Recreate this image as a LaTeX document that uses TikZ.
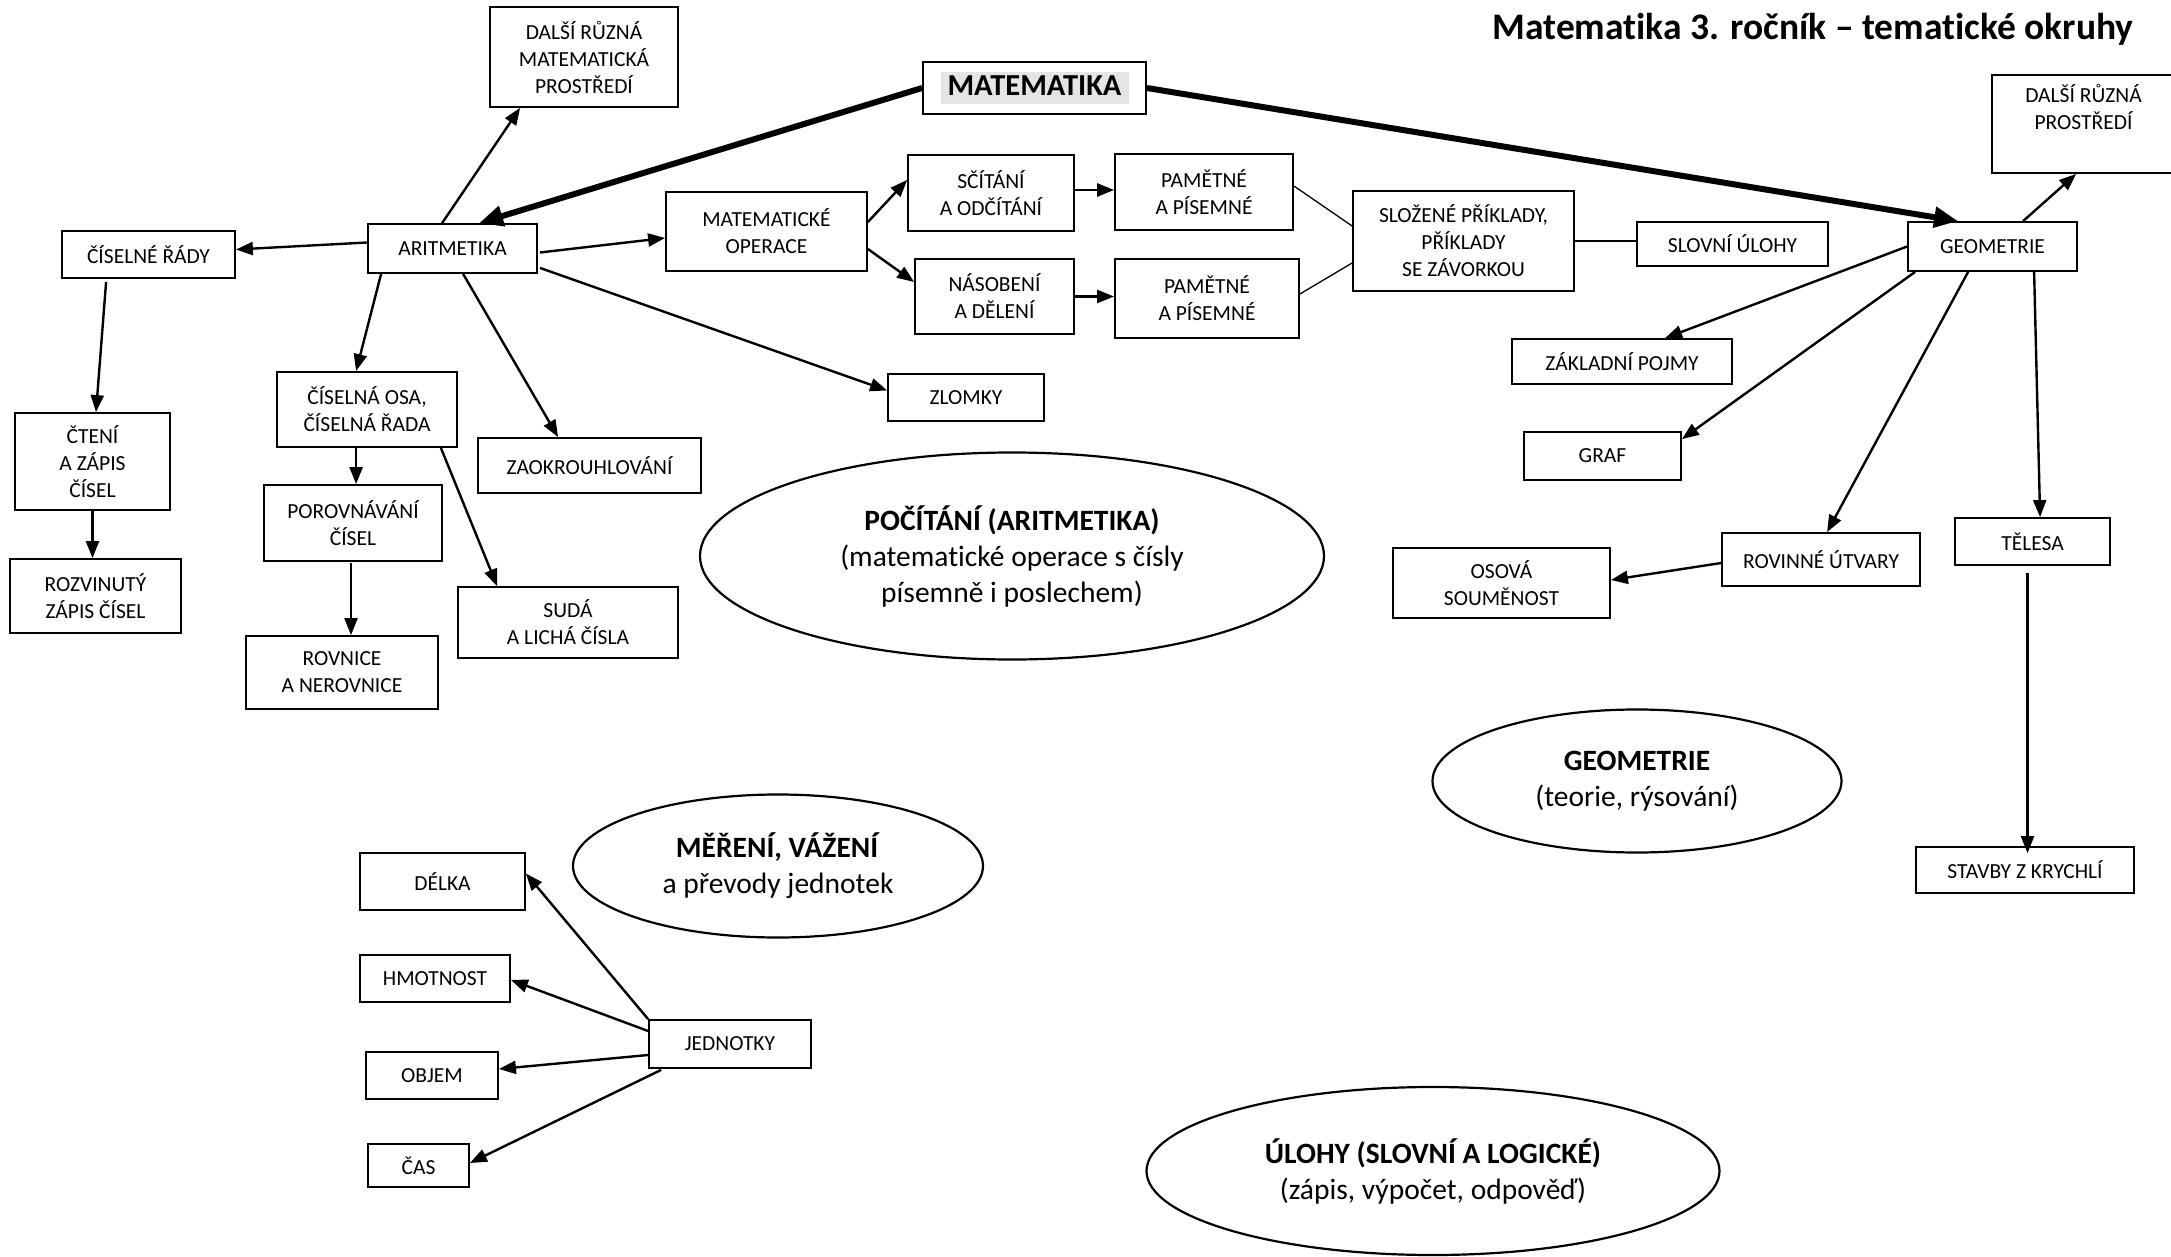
\documentclass[tikz,border=0pt]{standalone}
\usepackage{fontspec}
\setmainfont{Carlito}[Ligatures={NoCommon}]
\usetikzlibrary{arrows.meta,shapes.geometric,calc}
\definecolor{hl}{gray}{0.9}
\begin{document}
\begin{tikzpicture}[x=1pt,y=-1pt,
  box/.style={draw, line width=1.8pt, align=center, inner sep=0pt, font=\fontsize{21.5}{27}\selectfont},
  ell/.style={draw, ellipse, line width=2.2pt, align=center, inner sep=0pt, font=\fontsize{29.5}{36}\selectfont},
  arr/.style={line width=2.4pt, -{Triangle[length=17pt,width=13pt]}},
  bigarr/.style={line width=6pt, -{Triangle[length=24pt,width=20pt]}},
  thinline/.style={line width=1.3pt}]
\fill[white] (0,0) rectangle (2171,1257);
\useasboundingbox (0,0) rectangle (2171,1257);

% title
\node[anchor=base east, font=\fontsize{37.5}{44}\selectfont\bfseries] (title) at (2137,40) {Matematika 3. ročník – tematické okruhy};

% boxes
\node[box, minimum width=223pt, minimum height=52pt] (mat) at (1034.5,88)
  {\setlength\fboxsep{0pt}\colorbox{hl}{\makebox[188pt]{\rule[-8pt]{0pt}{32pt}\fontsize{30.5}{32}\selectfont\bfseries MATEMATIKA}}};
\node[box, minimum width=188pt, minimum height=100pt] (dalsi1) at (584,57) {DALŠÍ RŮZNÁ\\MATEMATICKÁ\\PROSTŘEDÍ};
\node[box, minimum width=169pt, minimum height=49pt] (arit) at (452.5,248.5) {ARITMETIKA};
\node[box, minimum width=173pt, minimum height=47pt] (cisrady) at (148.5,254.5) {ČÍSELNÉ ŘÁDY};
\node[box, minimum width=201pt, minimum height=79pt] (mops) at (766.5,231.5) {MATEMATICKÉ\\OPERACE};
\node[box, minimum width=166pt, minimum height=76pt] (scit) at (991,193) {SČÍTÁNÍ\\A ODČÍTÁNÍ};
\node[box, minimum width=159pt, minimum height=75pt] (nasob) at (994.5,296.5) {NÁSOBENÍ\\A DĚLENÍ};
\node[box, minimum width=178pt, minimum height=76pt] (pam1) at (1204,192) {PAMĚTNÉ\\A PÍSEMNÉ};
\node[box, minimum width=184pt, minimum height=79pt] (pam2) at (1207,298.5) {PAMĚTNÉ\\A PÍSEMNÉ};
\node[box, minimum width=221pt, minimum height=100pt] (slozene) at (1463.5,241) {SLOŽENÉ PŘÍKLADY,\\PŘÍKLADY\\SE ZÁVORKOU};
\node[box, minimum width=191pt, minimum height=44pt] (slovni) at (1732.5,244) {SLOVNÍ ÚLOHY};
\node[box, minimum width=169pt, minimum height=49pt] (geom) at (1992.5,246.5) {GEOMETRIE};
\node[box, minimum width=183pt, minimum height=98pt] (dalsi2) at (2083.5,124) {DALŠÍ RŮZNÁ\\PROSTŘEDÍ\\\strut};
\node[box, minimum width=220pt, minimum height=45pt] (zaklad) at (1622,361.5) {ZÁKLADNÍ POJMY};
\node[box, minimum width=157pt, minimum height=48pt] (graf) at (1602.5,456) {GRAF};
\node[box, minimum width=198pt, minimum height=53pt] (rovinne) at (1821,559.5) {ROVINNÉ ÚTVARY};
\node[box, minimum width=217pt, minimum height=70pt] (osova) at (1501.5,583) {OSOVÁ\\SOUMĚNOST};
\node[box, minimum width=155pt, minimum height=47pt] (telesa) at (2032.5,541.5) {TĚLESA};
\node[box, minimum width=218pt, minimum height=46pt] (stavby) at (2025,870) {STAVBY Z KRYCHLÍ};
\node[box, minimum width=156pt, minimum height=47pt] (zlomky) at (966,397.5) {ZLOMKY};
\node[box, minimum width=180pt, minimum height=75pt] (osa) at (367,409.5) {ČÍSELNÁ OSA,\\ČÍSELNÁ ŘADA};
\node[box, minimum width=223pt, minimum height=55pt] (zaokr) at (589.5,465.5) {ZAOKROUHLOVÁNÍ};
\node[box, minimum width=155pt, minimum height=97pt] (cteni) at (92.5,461.5) {ČTENÍ\\A ZÁPIS\\ČÍSEL};
\node[box, minimum width=171pt, minimum height=74pt] (rozv) at (95.5,596) {ROZVINUTÝ\\ZÁPIS ČÍSEL};
\node[box, minimum width=178pt, minimum height=76pt] (porov) at (353,523) {POROVNÁVÁNÍ\\ČÍSEL};
\node[box, minimum width=192pt, minimum height=73pt] (rovnice) at (342,672.5) {ROVNICE\\A NEROVNICE};
\node[box, minimum width=220pt, minimum height=71pt] (suda) at (568,622.5) {SUDÁ\\A LICHÁ ČÍSLA};
\node[box, minimum width=165pt, minimum height=57pt] (delka) at (442.5,881.5) {DÉLKA};
\node[box, minimum width=150pt, minimum height=47pt] (hmot) at (435,978.5) {HMOTNOST};
\node[box, minimum width=132pt, minimum height=47pt] (objem) at (432,1075.5) {OBJEM};
\node[box, minimum width=101pt, minimum height=43pt] (cas) at (418.5,1165.5) {ČAS};
\node[box, minimum width=162pt, minimum height=48pt] (jedn) at (730,1044) {JEDNOTKY};

% ellipses
\node[ell, minimum width=624pt, minimum height=207pt] (poc) at (1012,556)
  {\textbf{POČÍTÁNÍ (ARITMETIKA)}\\(matematické operace s čísly\\písemně i poslechem)};
\node[ell, minimum width=409pt, minimum height=143pt] (geoell) at (1637,781)
  {\textbf{GEOMETRIE}\\(teorie, rýsování)};
\node[ell, minimum width=410pt, minimum height=143pt] (mer) at (778,866)
  {\textbf{MĚŘENÍ, VÁŽENÍ}\\a převody jednotek};
\node[ell, minimum width=573pt, minimum height=168pt] (ulohy) at (1433,1171)
  {\textbf{ÚLOHY (SLOVNÍ A LOGICKÉ)}\\(zápis, výpočet, odpověď)};

% thick connectors
\draw[bigarr] (mat.west) -- ([shift={(112,0)}]arit.north west);
\draw[bigarr] (mat.east) -- ([shift={(51,0)}]geom.north west);

% aritmetika branch
\draw[arr] ([shift={(75,0)}]arit.north west) -- ([shift={(31,0)}]dalsi1.south west);
\draw[arr] ([shift={(0,-6)}]arit.west) -- ([shift={(0,-5)}]cisrady.east);
\draw[arr] ([shift={(2,4)}]arit.east) -- ([shift={(0,6.5)}]mops.west);
\draw[arr] ([shift={(14,0)}]arit.south west) -- ([shift={(80,0)}]osa.north west);
\draw[arr] ([shift={(96,0)}]arit.south west) -- ([shift={(81,0)}]zaokr.north west);
\draw[arr] ([shift={(2,-6)}]arit.south east) -- ([shift={(0,-7)}]zlomky.west);
\draw[arr] ([shift={(0,-9.5)}]mops.east) -- ([shift={(0,-13)}]scit.west);
\draw[arr] ([shift={(0,17.5)}]mops.east) -- ([shift={(0,-14.5)}]nasob.west);
\draw[arr] ([shift={(0,-3)}]scit.east) -- ([shift={(0,-3)}]scit.east -| pam1.west);
\draw[arr] (nasob.east) -- (nasob.east -| pam2.west);
\draw[thinline] ([shift={(0,-6)}]pam1.east) -- ([shift={(0,-15)}]slozene.west);
\draw[thinline] ([shift={(0,-4.5)}]pam2.east) -- ([shift={(0,22)}]slozene.west);
\draw[thinline] (slozene.east) -- (slozene.east -| slovni.west);
\draw[arr] ([shift={(45,3)}]cisrady.south west) -- ([shift={(3.5,0)}]cteni.north);
\draw[arr] (cteni.south) -- (cteni.south |- rozv.north);
\draw[arr] ([shift={(80,0)}]osa.south west) -- ([shift={(80,0)}]osa.south west |- porov.north);
\draw[arr] ([shift={(-2,1)}]porov.south) -- ([shift={(-2,0)}]porov.south |- rovnice.north);
\draw[arr] ([shift={(-17,0)}]osa.south east) -- ([shift={(40,0)}]suda.north west);

% geometrie branch
\draw[arr] ([shift={(116,0)}]geom.north west) -- ([shift={(85,0)}]dalsi2.south west);
\draw[arr] (geom.west) -- ([shift={(154,0)}]zaklad.north west);
\draw[arr] ([shift={(8,0)}]geom.south west) -- ([shift={(0,8)}]graf.north east);
\draw[arr] ([shift={(61,0)}]geom.south west) -- ([shift={(106,0)}]rovinne.north west);
\draw[arr] ([shift={(127,0)}]geom.south west) -- ([shift={(86,0)}]telesa.north west);
\draw[arr] ([shift={(0,3.5)}]rovinne.west) -- ([shift={(0,-3)}]osova.east);
\draw[arr] ([shift={(-5,7)}]telesa.south) -- ([shift={(-5,7)}]telesa.south |- stavby.north);

% jednotky
\draw[arr] (jedn.north west) -- ([shift={(0,-8)}]delka.east);
\draw[arr] ([shift={(0,-13)}]jedn.west) -- ([shift={(0,1.5)}]hmot.east);
\draw[arr] ([shift={(0,11)}]jedn.west) -- ([shift={(0,-6.5)}]objem.east);
\draw[arr] ([shift={(13,1)}]jedn.south west) -- ([shift={(0,-2.5)}]cas.east);
\end{tikzpicture}
\end{document}
